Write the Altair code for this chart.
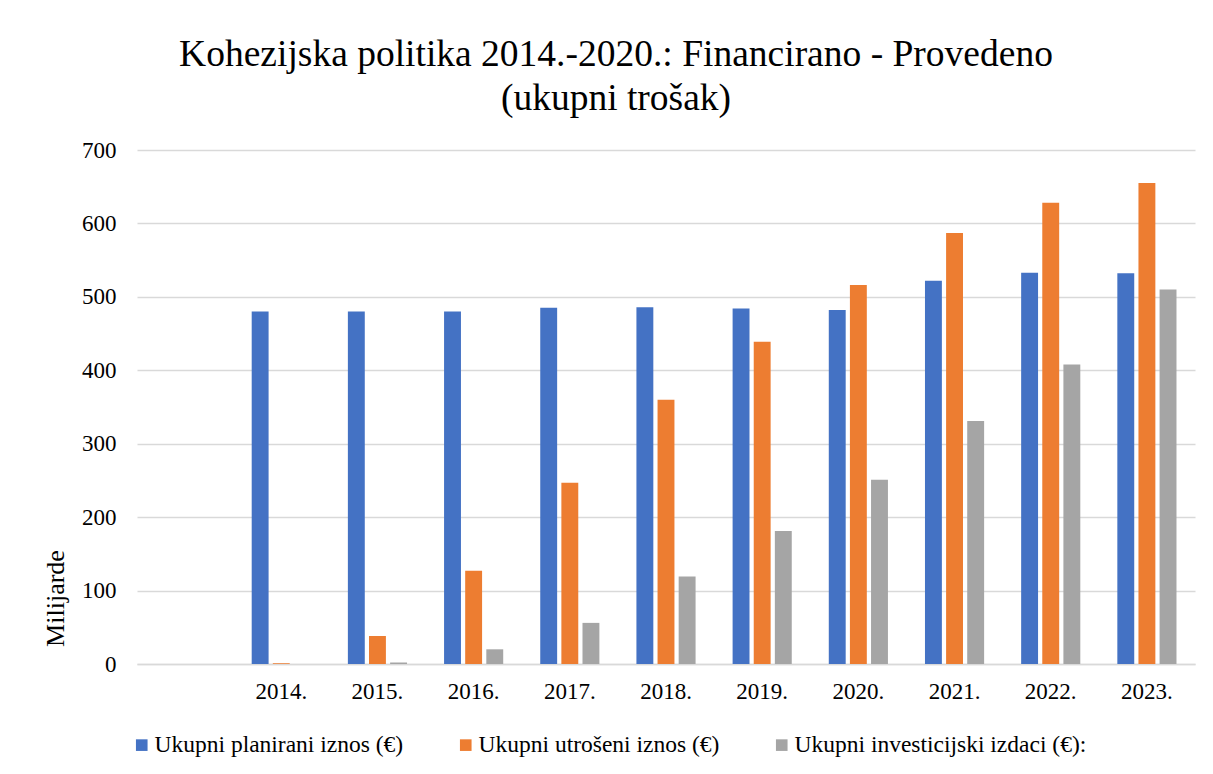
import altair as alt
import pandas as pd

years = ["2014.", "2015.", "2016.", "2017.", "2018.", "2019.", "2020.", "2021.", "2022.", "2023."]
domain_x = [" "] + years
series = ["Ukupni planirani iznos (€)", "Ukupni utrošeni iznos (€)", "Ukupni investicijski izdaci (€):"]
colors = ["#4472C4", "#ED7D31", "#A5A5A5"]

planirani = [480, 480, 480, 485, 486, 484, 482, 522, 533, 532]
utroseni = [1, 38, 127, 247, 360, 439, 516, 587, 628, 655]
izdaci = [0, 2, 20, 56, 119, 181, 251, 331, 408, 510]

rows = []
for s, vals in zip(series, [planirani, utroseni, izdaci]):
    for y, v in zip(years, vals):
        rows.append({"Godina": y, "Serija": s, "Vrijednost": v})
df = pd.DataFrame(rows)

serif = "Liberation Serif"

chart = alt.Chart(df).mark_bar().encode(
    x=alt.X("Godina:N", scale=alt.Scale(domain=domain_x, paddingInner=0.385, paddingOuter=0.1925),
            axis=alt.Axis(title=None, labelAngle=0, labelFont=serif, labelFontSize=23, labelColor="#000000",
                          labelPadding=16, ticks=False, domainColor="#d9d9d9", domainWidth=1.5)),
    xOffset=alt.XOffset("Serija:N", sort=series, scale=alt.Scale(paddingInner=0.2, paddingOuter=0)),
    y=alt.Y("Vrijednost:Q", scale=alt.Scale(domain=[0, 700], nice=False),
            axis=alt.Axis(title="Milijarde", values=list(range(0, 701, 100)),
                          titleY=448, titleAlign="center", titleAngle=-90,
                          titleFont=serif, titleFontSize=26, titleFontWeight="normal", titleColor="#000000",
                          titlePadding=13, labelFont=serif, labelFontSize=23, labelColor="#000000",
                          labelPadding=21, ticks=False, domain=False, gridColor="#d9d9d9", gridWidth=1.5)),
    color=alt.Color("Serija:N", sort=series, scale=alt.Scale(domain=series, range=colors),
                    legend=alt.Legend(title=None, orient="none", legendX=-7, legendY=583, direction="horizontal",
                                      columns=3, symbolType="square", symbolSize=135, symbolStrokeWidth=0,
                                      labelFont=serif, labelFontSize=23.5, labelColor="#000000",
                                      columnPadding=50, labelOffset=1, labelLimit=500)),
).properties(
    width=1058,
    height=514,
    title=alt.TitleParams(
        text=["Kohezijska politika 2014.-2020.: Financirano - Provedeno", "(ukupni trošak)"],
        font=serif, fontSize=37.5, fontWeight="normal", color="#000000",
        anchor="middle", dx=-50, offset=22, lineHeight=44,
    ),
    padding={"left": 129, "top": 142, "right": 10, "bottom": 110},
    autosize=alt.AutoSizeParams(type="none"),
).configure(background="#ffffff").configure_view(stroke=None)

chart.save("out.html", embed_options={"renderer": "svg", "actions": False})
